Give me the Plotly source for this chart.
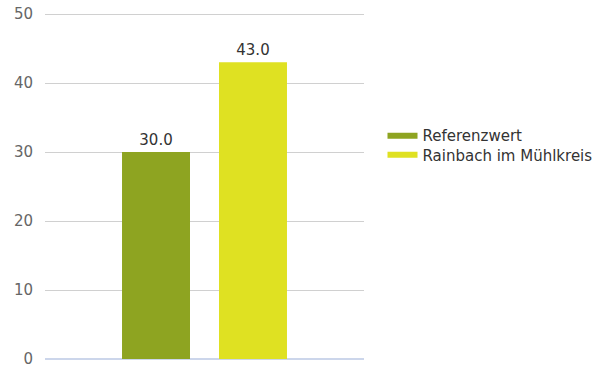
import plotly.graph_objects as go

category = [""]
series_names = ["Referenzwert", "Rainbach im Mühlkreis"]
series_values = [[30.0], [43.0]]
colors = ["#8ea421", "#dfe122"]
legend_ids = ["legend", "legend2"]

fig = go.Figure()
for name, vals, col, lg in zip(series_names, series_values, colors, legend_ids):
    fig.add_trace(go.Bar(
        x=category, y=vals, name=name, marker_color=col, marker_line_width=0,
        text=[f"{v:.1f}" for v in vals], textposition="outside",
        textfont=dict(size=15, color="#333333"), cliponaxis=False,
        showlegend=False,
    ))
    # flat line-style legend entries, like the reference's legend swatches
    fig.add_trace(go.Scatter(
        x=[None], y=[None], mode="lines", name=name, legend=lg,
        line=dict(color=col, width=6),
    ))

leg_style = dict(x=1.058, xanchor="left", yanchor="middle",
                 font=dict(size=15, color="#333333"), bgcolor="rgba(0,0,0,0)")

fig.update_layout(
    width=614, height=368,
    margin=dict(l=45, r=250, t=12, b=9, autoexpand=False),
    paper_bgcolor="white", plot_bgcolor="white",
    font=dict(family="DejaVu Sans", size=15, color="#666666"),
    barmode="group", bargap=0.392, bargroupgap=0.299,
    showlegend=True,
    legend=dict(y=0.643, **leg_style),
    legend2=dict(y=0.588, **leg_style),
    xaxis=dict(showticklabels=False, showgrid=False, zeroline=False,
               automargin=False),
    yaxis=dict(range=[0, 50.3], tickvals=[0, 10, 20, 30, 40, 50],
               gridcolor="#d0d0d0", gridwidth=1, zeroline=True,
               zerolinecolor="#ccd6eb", zerolinewidth=2,
               ticks="", ticklabelstandoff=11, automargin=False,
               ticklabeloverflow="allow"),
)

# drop the page's default body margin so the chart sits at the top-left corner
fig.write_html("out.html", config={"displayModeBar": False},
               post_script="document.body.style.margin='0px';")
